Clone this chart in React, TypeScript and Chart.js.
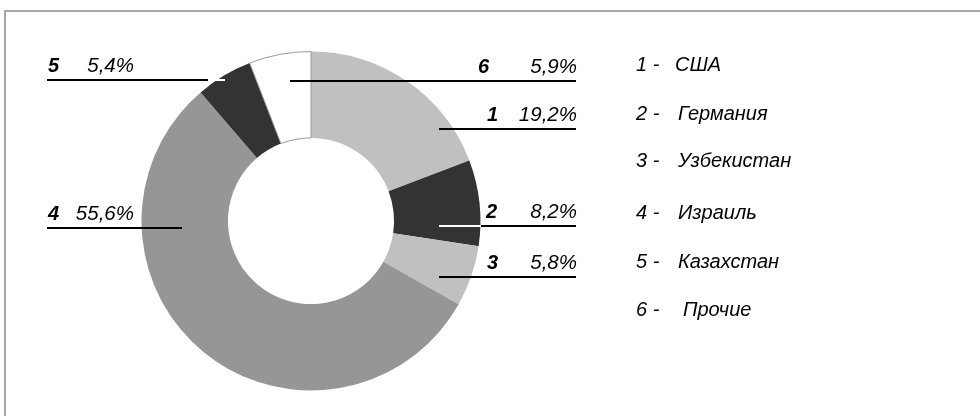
import React, { useEffect, useRef } from "react";
import { Chart, registerables } from "chart.js";

Chart.register(...registerables);

const indices = ["1", "2", "3", "4", "5", "6"];
const countries = ["США", "Германия", "Узбекистан", "Израиль", "Казахстан", "Прочие"];
const shares = [19.2, 8.2, 5.8, 55.6, 5.4, 5.9];
const sliceColors = ["#c0c0c0", "#333333", "#c0c0c0", "#969696", "#333333", "#ffffff"];

// label layout: side, y of leader line, line segments [x1,x2,color]
const labelLayout = [
  { side: "R", idxX: 487, lineY: 129, segs: [[439, 576, "#000"]] },
  { side: "R", idxX: 486, lineY: 226, segs: [[439, 481, "#fff"], [481, 576, "#000"]] },
  { side: "R", idxX: 487, lineY: 277, segs: [[439, 576, "#000"]] },
  { side: "L", idxX: 48, lineY: 228, segs: [[47, 182, "#000"]] },
  { side: "L", idxX: 48, lineY: 80, segs: [[47, 208, "#000"], [210, 225, "#fff"]] },
  { side: "R", idxX: 478, lineY: 81, segs: [[290, 576, "#000"]] },
];
const legendRowsY = [65, 114, 161, 213, 262, 310];

const fmt = (v: number) => v.toFixed(1).replace(".", ",") + "%";

const overlayPlugin = {
  id: "overlay",
  afterDraw(chart: any) {
    const ctx = chart.ctx as CanvasRenderingContext2D;
    ctx.save();
    // frame
    ctx.strokeStyle = "#a8a8a8";
    ctx.lineWidth = 2;
    ctx.beginPath();
    ctx.moveTo(5, 500);
    ctx.lineTo(5, 11);
    ctx.lineTo(1000, 11);
    ctx.stroke();

    // leader lines and labels
    labelLayout.forEach((l, i) => {
      ctx.lineWidth = 2;
      l.segs.forEach((s: any) => {
        ctx.strokeStyle = s[2];
        ctx.beginPath();
        ctx.moveTo(s[0], l.lineY);
        ctx.lineTo(s[1], l.lineY);
        ctx.stroke();
      });
      ctx.fillStyle = "#000";
      ctx.textBaseline = "alphabetic";
      const baseY = l.lineY - 8;
      ctx.textAlign = "left";
      ctx.font = 'italic bold 20px "Liberation Sans", Arial, sans-serif';
      ctx.fillText(indices[i], l.idxX, baseY);
      ctx.font = 'italic 20.5px "Liberation Sans", Arial, sans-serif';
      ctx.textAlign = "right";
      ctx.fillText(fmt(shares[i]), l.side === "R" ? 577 : 134, baseY);
    });

    // legend
    ctx.font = 'italic 20px "Liberation Sans", Arial, sans-serif';
    ctx.textAlign = "left";
    ctx.textBaseline = "middle";
    ctx.fillStyle = "#000";
    legendRowsY.forEach((y, i) => {
      ctx.fillText(indices[i] + " -", 636, y);
      ctx.fillText(countries[i], i === 0 ? 675 : i === 5 ? 683 : 678, y);
    });
    ctx.restore();
  },
};

export default function App() {
  const ref = useRef<HTMLCanvasElement | null>(null);
  useEffect(() => {
    if (!ref.current) return;
    const chart = new Chart(ref.current, {
      type: "doughnut",
      data: {
        labels: countries,
        datasets: [
          {
            data: shares,
            backgroundColor: sliceColors,
            borderColor: ["#c0c0c0", "#333333", "#c0c0c0", "#969696", "#333333", "#999999"],
            borderWidth: [0, 0, 0, 0, 0, 1],
          },
        ],
      },
      options: {
        responsive: false,
        animation: false,
        devicePixelRatio: 1,
        cutout: "49%",
        layout: { padding: { left: 141, right: 499, top: 51, bottom: 25 } },
        plugins: {
          legend: { display: false },
          tooltip: { enabled: false },
        },
      },
      plugins: [overlayPlugin],
    });
    return () => chart.destroy();
  }, []);
  return (
    <div style={{ position: "absolute", left: 0, top: 0, width: 980, height: 416, background: "#fff" }}>
      <canvas ref={ref} width={980} height={416} style={{ width: 980, height: 416, display: "block" }} />
    </div>
  );
}
